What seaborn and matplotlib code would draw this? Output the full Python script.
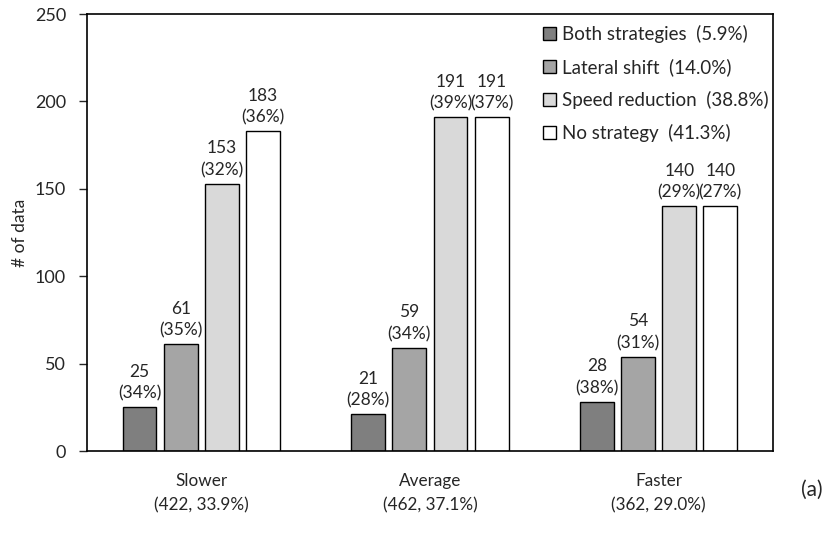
# Strategy counts by driving speed group, grouped bars with count / share labels

import pandas as pd
import matplotlib
matplotlib.use("Agg")
import matplotlib.pyplot as plt
import seaborn as sns

speeds = ["Slower", "Average", "Faster"]
speed_info = ["(422, 33.9%)", "(462, 37.1%)", "(362, 29.0%)"]
strategies = ["Both strategies", "Lateral shift", "Speed reduction", "No strategy"]
strategy_share = ["(5.9%)", "(14.0%)", "(38.8%)", "(41.3%)"]
colors = ["#7f7f7f", "#a5a5a5", "#d9d9d9", "#ffffff"]

both_counts = [25, 21, 28]
lateral_counts = [61, 59, 54]
speed_red_counts = [153, 191, 140]
none_counts = [183, 191, 140]

both_pct = ["34%", "28%", "38%"]
lateral_pct = ["35%", "34%", "31%"]
speed_red_pct = ["32%", "39%", "29%"]
none_pct = ["36%", "37%", "27%"]

counts = [both_counts, lateral_counts, speed_red_counts, none_counts]
pcts = [both_pct, lateral_pct, speed_red_pct, none_pct]

rows = []
for s, vals in zip(strategies, counts):
    for sp, v in zip(speeds, vals):
        rows.append({"speed": sp, "strategy": s, "count": v})
df = pd.DataFrame(rows)

sns.set_style("white")
plt.rcParams["font.family"] = ["Lato", "DejaVu Sans"]

fig = plt.figure(figsize=(8.33, 5.35), dpi=100)
ax = fig.add_axes([0.1044, 0.157, 0.8235, 0.8168])

sns.barplot(data=df, x="speed", y="count", hue="strategy", order=speeds,
            hue_order=strategies, palette=colors, edgecolor="black",
            linewidth=1, width=0.72, gap=0.18, saturation=1, ax=ax)

for cont, vals, pc in zip(ax.containers, counts, pcts):
    labels = [f"{v}\n({p})" for v, p in zip(vals, pc)]
    ax.bar_label(cont, labels=labels, padding=4, fontsize=12.5, linespacing=1.45)

ax.set_ylim(0, 250)
ax.set_yticks(range(0, 251, 50))
ax.set_xlim(-0.5, 2.5)
ax.set_xticks(range(len(speeds)))
ax.set_xticklabels([f"{s}\n{i}" for s, i in zip(speeds, speed_info)],
                   fontsize=12.3, linespacing=1.6)
ax.tick_params(axis="x", length=0, pad=16)
ax.tick_params(axis="y", direction="out", length=6, width=1, left=True,
               labelsize=13, pad=9)
ax.set_xlabel("")
ax.set_ylabel("# of data", fontsize=12.5, labelpad=5)
for sp in ax.spines.values():
    sp.set_visible(True)
    sp.set_color("black")
    sp.set_linewidth(1.2)

handles, _ = ax.get_legend_handles_labels()
leg_labels = [f"{s}  {p}" for s, p in zip(strategies, strategy_share)]
ax.legend(handles, leg_labels, loc="upper right", bbox_to_anchor=(0.993, 0.975),
          frameon=False, fontsize=13.5, handlelength=0.7, handleheight=0.7,
          handletextpad=0.3, labelspacing=0.8, borderaxespad=0, borderpad=0)

fig.text(0.961, 0.084, "(a)", fontsize=15, ha="left", va="center")

fig.savefig("out.png", dpi=100)
